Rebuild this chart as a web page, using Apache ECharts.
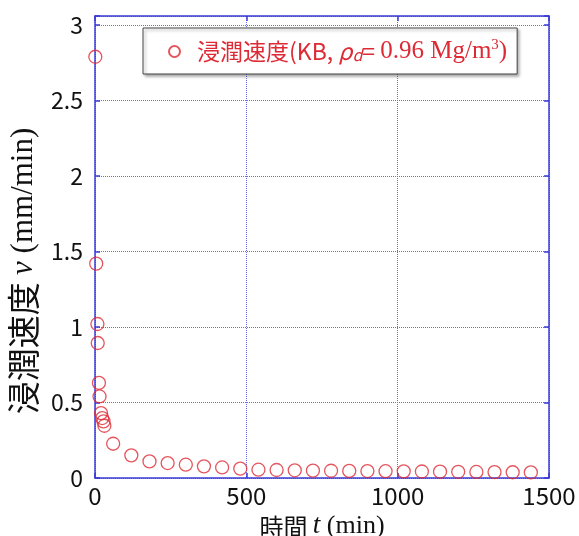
<!DOCTYPE html>
<html>
<head>
<meta charset="utf-8">
<script src="https://cdn.jsdelivr.net/npm/echarts@6/dist/echarts.min.js"></script>
<style>
html,body{margin:0;padding:0;background:#fff;}
#c{width:579px;height:536px;}
</style>
</head>
<body>
<div id="c"></div>
<script>
// time t (min)
var times = [1, 4, 8, 9, 13, 15, 20, 24, 28, 31,
  60, 120, 180, 240, 300, 360, 420, 480, 540, 600, 660, 720, 780, 840,
  900, 960, 1020, 1080, 1140, 1200, 1260, 1320, 1380, 1440];
// infiltration rate v (mm/min)
var rates = [2.79, 1.42, 1.02, 0.894, 0.63, 0.54, 0.43, 0.397, 0.375, 0.346,
  0.227, 0.15, 0.11, 0.099, 0.088, 0.077, 0.070, 0.062, 0.055, 0.053, 0.051, 0.049, 0.048, 0.047,
  0.046, 0.045, 0.044, 0.043, 0.042, 0.041, 0.040, 0.039, 0.038, 0.037];
var xTicks = [0, 500, 1000, 1500];
var yTicks = [0, 0.5, 1, 1.5, 2, 2.5, 3];
var seriesName = '浸潤速度(KB, ρd= 0.96 Mg/m3)';

var blue = '#3a3ad8';
var gridBlue = '#6b6bee';
var red = '#dd2a35';
var sans = '"Noto Sans CJK JP", "Noto Sans", sans-serif';
var serif = '"Liberation Serif", "DejaVu Serif", serif';

var data = times.map(function (t, i) { return [t, rates[i]]; });

var chart = echarts.init(document.getElementById('c'));
function axisCommon() {
  return {
    axisLine: { show: true, onZero: false, lineStyle: { color: blue, width: 1.5 } },
    axisTick: { show: true, inside: true, length: 5, lineStyle: { color: blue, width: 1.5 } }
  };
}
chart.setOption({
  animation: false,
  grid: { left: 95, right: 30, top: 16, bottom: 58, containLabel: false, outerBoundsMode: 'none' },
  legend: {
    left: 143, top: 28,
    padding: [10, 10, 10, 25],
    itemWidth: 11, itemHeight: 11,
    backgroundColor: '#fff',
    borderColor: '#444', borderWidth: 1,
    shadowColor: 'rgba(0,0,0,0.35)', shadowBlur: 3, shadowOffsetX: 2, shadowOffsetY: 2,
    data: [seriesName],
    formatter: function () {
      return '{p|}{a|浸潤速度(KB, }{b|ρ}{c|d}{a|= }{s|0.96 Mg/m}{sup|3}{s|)}';
    },
    textStyle: {
      color: red,
      rich: {
        p: { width: 12 },
        a: { fontFamily: sans, fontSize: 23, color: red },
        b: { fontFamily: sans, fontStyle: 'italic', fontSize: 23, color: red },
        c: { fontFamily: sans, fontStyle: 'italic', fontSize: 16, color: red, padding: [6, 0, 0, 0] },
        s: { fontFamily: serif, fontSize: 25, color: red },
        sup: { fontFamily: serif, fontSize: 15, color: red, padding: [0, 0, 12, 0] }
      }
    }
  },
  xAxis: [Object.assign({
    type: 'value', min: 0, max: 1500, interval: 500,
    name: '{a|時間 }{b|t}{c| (min)}',
    nameLocation: 'middle', nameGap: 34,
    nameTextStyle: {
      rich: {
        a: { fontFamily: sans, fontSize: 24, color: '#111' },
        b: { fontFamily: serif, fontStyle: 'italic', fontSize: 27, color: '#111' },
        c: { fontFamily: serif, fontSize: 26, color: '#111' }
      }
    },
    axisLabel: { fontFamily: sans, fontSize: 24, color: '#111', margin: 6,
      formatter: function (v) { return String(v); } },
    splitLine: { show: true, lineStyle: { color: gridBlue, type: [1, 1], width: 1 } }
  }, axisCommon()), Object.assign({
    type: 'value', min: 0, max: 1500, interval: 500, position: 'top',
    axisLabel: { show: false }, splitLine: { show: false }
  }, axisCommon())],
  yAxis: [Object.assign({
    type: 'value', min: 0, max: 3.06, interval: 0.5,
    name: '{a|浸潤速度 }{b|v}{c| (mm/min)}',
    nameLocation: 'middle', nameGap: 48,
    nameTextStyle: {
      padding: [0, 48, 0, 0],
      rich: {
        a: { fontFamily: sans, fontSize: 33, color: '#111' },
        b: { fontFamily: serif, fontStyle: 'italic', fontSize: 31, color: '#111' },
        c: { fontFamily: serif, fontSize: 31, color: '#111' }
      }
    },
    axisLabel: {
      fontFamily: sans, fontSize: 23, color: '#111', margin: 12,
      formatter: function (v) { return yTicks.indexOf(Math.round(v * 100) / 100) >= 0 ? String(v) : ''; }
    },
    splitLine: { show: true, lineStyle: { color: gridBlue, type: [1, 1], width: 1 } }
  }, axisCommon()), Object.assign({
    type: 'value', min: 0, max: 3.06, interval: 0.5, position: 'right',
    axisLabel: { show: false }, splitLine: { show: false }
  }, axisCommon())],
  series: [{
    name: seriesName,
    type: 'scatter',
    data: data,
    symbol: 'circle',
    symbolSize: 13,
    itemStyle: { color: 'rgba(255,255,255,0)', borderColor: red, borderWidth: 1.3 }
  }]
});
</script>
</body>
</html>
